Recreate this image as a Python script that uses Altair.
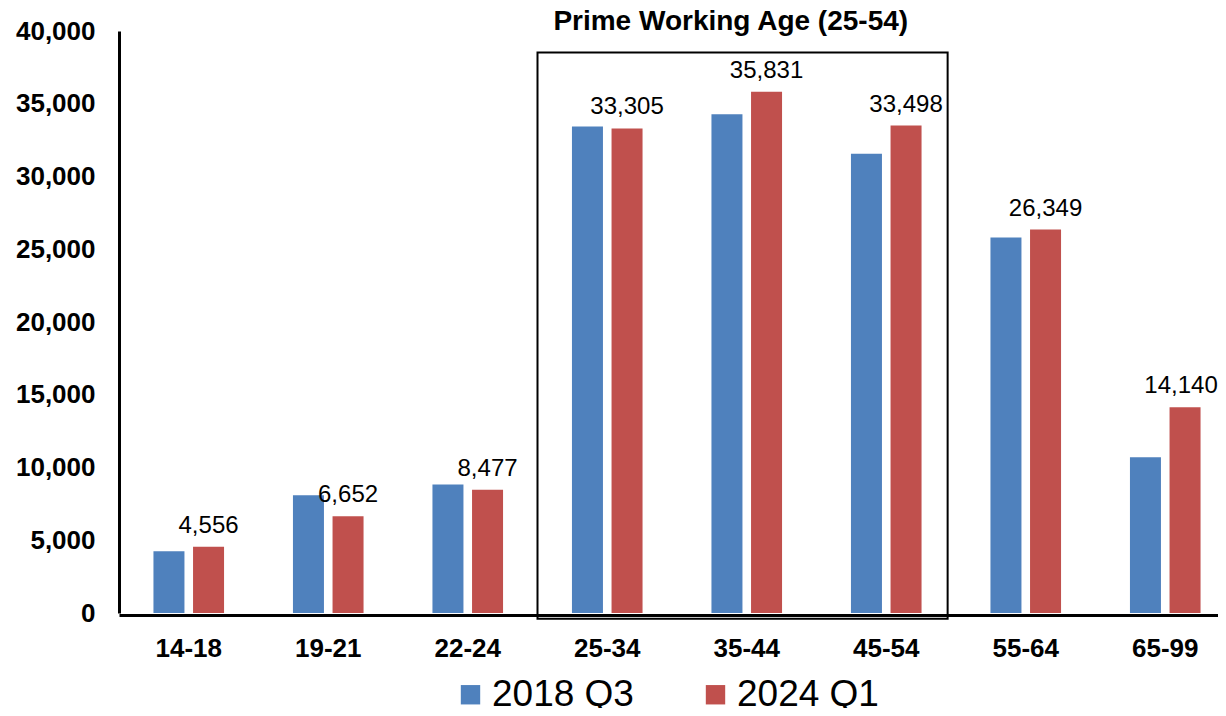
import altair as alt
import pandas as pd

# ---- data ----
categories = ["14-18", "19-21", "22-24", "25-34", "35-44", "45-54", "55-64", "65-99"]
series = ["2018 Q3", "2024 Q1"]
values_2018q3 = [4250, 8100, 8830, 33440, 34270, 31570, 25800, 10700]
values_2024q1 = [4556, 6652, 8477, 33305, 35831, 33498, 26349, 14140]
colors = ["#4F81BD", "#C0504D"]
y_ticks = [0, 5000, 10000, 15000, 20000, 25000, 30000, 35000, 40000]
box_title = "Prime Working Age (25-54)"
box_start, box_end = "25-34", "45-54"
box_top, box_bottom = 38530, -400
title_anchor = "35-44"
edge_category = "65-99"   # its label sits at the picture's right edge

FONT = "Liberation Sans"

rows = []
for c, a, b in zip(categories, values_2018q3, values_2024q1):
    rows.append({"age": c, "series": series[0], "value": a})
    rows.append({"age": c, "series": series[1], "value": b})
df = pd.DataFrame(rows)
df_lab = df[df["series"] == series[1]]

box_df = pd.DataFrame({"start": [box_start], "end": [box_end],
                       "top": [box_top], "bottom": [box_bottom]})
title_df = pd.DataFrame({"age": [title_anchor], "label": [box_title]})

# the category axis runs slightly past the right edge of the picture, as in the original
xscale = alt.Scale(domain=categories, range=[0, 1116], paddingInner=0, paddingOuter=0)
yscale = alt.Scale(domain=[0, 40000])
offscale = alt.Scale(domain=series, paddingInner=0.217, paddingOuter=0.87)

x_axis = alt.Axis(title=None, labelFont=FONT, labelFontSize=26, labelFontWeight="bold",
                  labelColor="black", ticks=False, tickSize=0, labelPadding=20, offset=2,
                  domainColor="black", domainWidth=3, labelAngle=0, grid=False)
y_axis = alt.Axis(title=None, values=y_ticks, format=",.0f", labelFont=FONT, labelFontSize=26,
                  labelFontWeight="bold", labelColor="black", ticks=False, tickSize=0,
                  labelPadding=24, domainColor="black", domainWidth=3, grid=False)

bars = alt.Chart(df).mark_bar().encode(
    x=alt.X("age:N", scale=xscale, sort=categories, axis=x_axis),
    xOffset=alt.XOffset("series:N", scale=offscale, sort=series),
    y=alt.Y("value:Q", scale=yscale, axis=y_axis),
    color=alt.Color("series:N", scale=alt.Scale(domain=series, range=colors),
                    legend=alt.Legend(title=None, orient="none", direction="horizontal",
                                      legendX=333, legendY=645, symbolType="square",
                                      symbolSize=376, symbolStrokeWidth=0,
                                      labelFont=FONT, labelFontSize=37, labelColor="black",
                                      labelOffset=3, columnPadding=63, padding=0)),
)

label_base = alt.Chart(df_lab).encode(
    x=alt.X("age:N", scale=xscale, sort=categories),
    xOffset=alt.XOffset("series:N", scale=offscale, sort=series),
    y=alt.Y("value:Q", scale=yscale),
    text=alt.Text("value:Q", format=","),
)
labels = label_base.mark_text(font=FONT, fontSize=24, color="black",
                              baseline="alphabetic", dy=-14).transform_filter(
    alt.datum.age != edge_category)
labels_edge = label_base.mark_text(font=FONT, fontSize=24, color="black",
                                   baseline="alphabetic", dy=-14, dx=-4).transform_filter(
    alt.datum.age == edge_category)

box = alt.Chart(box_df).mark_rect(filled=False, stroke="black", strokeWidth=2).encode(
    x=alt.X("start:N", scale=xscale, bandPosition=0),
    x2=alt.X2("end", bandPosition=0.94),
    y=alt.Y("top:Q", scale=yscale),
    y2=alt.Y2("bottom"),
)

title = alt.Chart(title_df).mark_text(font=FONT, fontSize=28, fontWeight="bold",
                                      color="black", baseline="alphabetic", dx=-16).encode(
    x=alt.X("age:N", scale=xscale),
    y=alt.value(-1),
    text="label:N",
)

chart = alt.layer(bars, labels, labels_edge, box, title).properties(
    width=1099, height=582,
    autosize=alt.AutoSizeParams(type="none"),
    padding={"left": 111, "top": 23, "right": 0, "bottom": 95},
    background="white",
).configure_view(strokeWidth=0, stroke="transparent")

chart.save("out.html", embed_options={"renderer": "svg", "actions": False})
